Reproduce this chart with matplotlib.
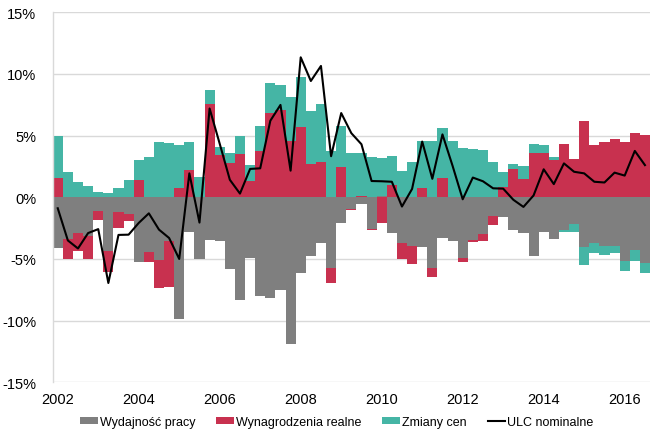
import numpy as np
import matplotlib.pyplot as plt

plt.rcParams['font.family'] = ['Liberation Sans', 'DejaVu Sans']

# Quarterly data 2002Q1 - 2016Q3, contributions in %
productivity = [-4.14, -3.39, -2.93, -3.17, -1.08, -4.33, -1.21, -1.34, -5.27, -4.43,
                -5.10, -3.52, -9.84, -2.85, -5.00, -3.44, -3.55, -5.81, -8.30, -4.95,
                -8.00, -8.14, -7.51, -11.90, -6.16, -4.76, -3.73, -5.76, -2.12, -0.93,
                -0.55, -2.57, 0.12, -2.90, -3.67, -3.98, -4.00, -5.73, -3.31, -3.55,
                -4.92, -3.44, -2.94, -1.53, -1.56, -2.66, -2.90, -4.78, -2.85, -3.40,
                -2.64, -2.15, -4.06, -3.70, -3.93, -3.93, -5.14, -4.26, -5.33]
real_wages = [1.56, -1.61, -1.40, -1.83, -0.80, -1.75, -1.29, -0.62, 1.42, -0.79,
              -2.29, -3.79, 0.73, 2.20, 0.00, 7.58, 3.47, 2.82, 3.52, 1.36,
              3.78, 6.81, 7.08, 4.57, 5.68, 2.70, 2.84, -1.22, 2.48, -0.10,
              0.14, -0.08, -2.05, 1.00, -1.35, -1.42, 0.73, -0.75, 1.53, 0.00,
              -0.32, -0.22, -0.60, -0.70, 0.81, 2.28, 1.47, 3.58, 3.62, 3.02,
              4.34, 3.12, 6.20, 4.28, 4.50, 4.69, 4.52, 5.21, 5.05]
prices = [3.39, 2.07, 1.21, 0.91, 0.40, 0.38, 0.78, 1.42, 1.64, 3.28,
          4.49, 4.38, 3.54, 2.26, 1.61, 1.08, 0.59, 0.76, 1.44, 1.29,
          2.00, 2.43, 2.02, 3.53, 4.10, 4.33, 4.70, 3.76, 3.28, 3.63,
          3.49, 3.23, 3.03, 2.33, 2.15, 2.85, 3.81, 4.54, 4.09, 4.55,
          4.00, 3.92, 3.84, 2.85, 1.23, 0.46, 1.08, 0.73, 0.63, 0.27,
          -0.19, -0.67, -1.47, -0.78, -0.72, -0.60, -0.86, -0.89, -0.78]
ulc = [-0.89, -3.50, -4.15, -2.90, -2.58, -6.95, -3.05, -3.03, -2.08, -1.30,
       -2.62, -3.30, -5.00, 1.94, -2.05, 7.20, 4.34, 1.42, 0.30, 2.30,
       2.35, 6.21, 7.49, 2.16, 11.35, 9.43, 10.65, 3.33, 6.83, 5.20,
       4.30, 1.32, 1.30, 1.26, -0.75, 0.68, 4.52, 1.50, 5.10, 2.55,
       -0.16, 1.60, 1.30, 0.73, 0.70, -0.20, -0.78, 0.15, 2.27, 1.07,
       2.75, 2.07, 1.94, 1.26, 1.20, 2.00, 1.76, 3.76, 2.61]
tick_labels = ['2002', '2004', '2006', '2008', '2010', '2012', '2014', '2016']

series = [('Wydajność pracy', productivity, '#7f7f7f'),
          ('Wynagrodzenia realne', real_wages, '#c8314f'),
          ('Zmiany cen', prices, '#45b5a5')]

x = np.arange(len(ulc))

fig = plt.figure(figsize=(6.71, 4.39), dpi=100)
ax = fig.add_axes([0.0785, 0.1269, 0.8902, 0.8428])

# Excel-like stacking: positives up from 0, negatives down from 0
pos_base = np.zeros(len(x))
neg_base = np.zeros(len(x))
handles = []
for name, vals, color in series:
    v = np.array(vals)
    bottom = np.where(v >= 0, pos_base, neg_base)
    h = ax.bar(x, v, width=1.0, bottom=bottom, color=color, linewidth=0, label=name, zorder=2)
    handles.append(h)
    pos_base += np.where(v >= 0, v, 0)
    neg_base += np.where(v < 0, v, 0)

line, = ax.plot(x, ulc, color='black', linewidth=1.5, label='ULC nominalne', zorder=3)
handles.append(line)

ax.set_xlim(-0.5, len(x) - 0.5)
ax.set_ylim(-15, 15)
yt = np.arange(-15, 16, 5)
ax.set_yticks(yt)
ax.set_yticklabels([f'{v}%' for v in yt])
ax.set_xticks(x[::8])
ax.set_xticklabels(tick_labels)
ax.tick_params(axis='both', length=0, labelsize=10.5, colors='black')
ax.tick_params(axis='y', pad=12)
ax.tick_params(axis='x', pad=7)

ax.grid(axis='y', color='#d9d9d9', linewidth=1.0, zorder=0)
ax.set_axisbelow(True)
for s in ['top', 'right', 'bottom']:
    ax.spines[s].set_visible(False)
ax.spines['left'].set_color('#d9d9d9')
ax.spines['left'].set_linewidth(1.0)

fig.legend(handles=handles, loc='center', bbox_to_anchor=(0.502, 0.037), ncol=4,
           frameon=False, fontsize=9, handlelength=1.4, handleheight=0.55,
           handletextpad=0.15, columnspacing=1.7)

fig.savefig('out.png', dpi=100)
